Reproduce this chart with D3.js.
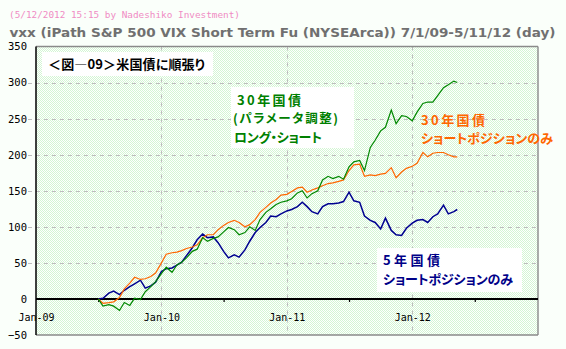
<!DOCTYPE html>
<html>
<head>
<meta charset="utf-8">
<script src="https://cdn.jsdelivr.net/npm/d3@7"></script>
<style>
  html, body { margin: 0; padding: 0; background: #fafffa; }
  svg { display: block; }
  .jp { font-family: "Noto Sans CJK JP", sans-serif; font-weight: bold; font-feature-settings: "palt"; }
</style>
</head>
<body>
<svg id="chart" width="566" height="349"></svg>
<script>
// ---- data (semi-monthly closes, cumulative result) ----
const dates = [
  "2009-07-01","2009-07-15","2009-08-01","2009-08-15","2009-09-01","2009-09-15",
  "2009-10-01","2009-10-15","2009-11-01","2009-11-15","2009-12-01","2009-12-15",
  "2010-01-01","2010-01-15","2010-02-01","2010-02-15","2010-03-01","2010-03-15",
  "2010-04-01","2010-04-15","2010-05-01","2010-05-15","2010-06-01","2010-06-15",
  "2010-07-01","2010-07-15","2010-08-01","2010-08-15","2010-09-01","2010-09-15",
  "2010-10-01","2010-10-15","2010-11-01","2010-11-15","2010-12-01","2010-12-15",
  "2011-01-01","2011-01-15","2011-02-01","2011-02-15","2011-03-01","2011-03-15",
  "2011-04-01","2011-04-15","2011-05-01","2011-05-15","2011-06-01","2011-06-15",
  "2011-07-01","2011-07-15","2011-08-01","2011-08-15","2011-09-01","2011-09-15",
  "2011-10-01","2011-10-15","2011-11-01","2011-11-15","2011-12-01","2011-12-15",
  "2012-01-01","2012-01-15","2012-02-01","2012-02-15","2012-03-01","2012-03-15",
  "2012-04-01","2012-04-15","2012-05-01","2012-05-11"
];

// 30-year bond, tuned parameters, long/short (green)
const bond30LongShort = [
  0, -10, -8, -10, -16, -5, -9, 1, -1, 10, 17, 24,
  35, 44, 37, 47, 51, 57, 66, 69, 85, 80, 84, 86,
  93, 99, 96, 89, 92, 100, 95, 110, 120, 125, 131, 134,
  136, 139, 147, 150, 140, 146, 150, 165, 170, 167, 170, 166,
  183, 190, 192, 178, 210, 220, 233, 238, 262, 243, 254, 253,
  247, 259, 271, 273, 273, 282, 293, 297, 302, 300
];

// 30-year bond, short positions only (orange)
const bond30ShortOnly = [
  0, -6, -5, -4, 2, 14, 22, 30, 27, 28, 31, 36,
  50, 62, 64, 65, 67, 70, 72, 75, 85, 89, 89, 96,
  102, 106, 109, 106, 100, 103, 110, 120, 127, 133, 138, 144,
  145, 149, 154, 155, 148, 151, 154, 157, 160, 161, 163, 165,
  178, 186, 187, 170, 172, 171, 173, 174, 182, 168, 176, 181,
  184, 188, 203, 197, 202, 203, 203, 200, 197, 197
];

// 5-year bond, short positions only (navy)
const bond5ShortOnly = [
  0, 1, 8, 11, 6, 12, 17, 21, 26, 15, 18, 23,
  38, 42, 43, 47, 51, 60, 71, 82, 90, 85, 86, 78,
  66, 57, 61, 58, 68, 80, 92, 99, 106, 115, 114, 118,
  122, 124, 128, 134, 128, 121, 118, 128, 132, 132, 133, 135,
  148, 136, 134, 115, 109, 106, 97, 112, 95, 89, 88, 98,
  105, 109, 110, 106, 114, 118, 130, 118, 121, 124
];

const yTicks = [-50, 0, 50, 100, 150, 200, 250, 300, 350];
const yGrid = [50, 100, 150, 200, 250, 300];
const xTicks = ["2009-01-01", "2010-01-01", "2011-01-01", "2012-01-01"];
const xMidTicks = ["2009-07-01", "2010-07-01", "2011-07-01", "2012-07-01"];
const xDomain = ["2009-01-01", "2013-01-01"];

const subTitle = "(5/12/2012 15:15 by Nadeshiko Investment)";
const mainTitle = "vxx (iPath S&P 500 VIX Short Term Fu (NYSEArca))  7/1/09-5/11/12 (day)";
const figTitle = "＜図―09＞米国債に順張り";
const greenLabel = ["30年国債", "(パラメータ調整)", "ロング・ショート"];
const orangeLabel = ["30年国債", "ショートポジションのみ"];
const navyLabel = ["5年国債", "ショートポジションのみ"];

// ---- layout ----
const svg = d3.select("#chart");
const plotL = 36, plotR = 538, plotT = 46.5, plotB = 335;
const parse = d3.timeParse("%Y-%m-%d");

const x = d3.scaleTime().domain(xDomain.map(parse)).range([plotL, plotR]);
const y = d3.scaleLinear().domain([-50, 350]).range([plotB, plotT]);

// dotted plot background
const defs = svg.append("defs");
const pat = defs.append("pattern")
  .attr("id", "dots").attr("patternUnits", "userSpaceOnUse")
  .attr("width", 2).attr("height", 2);
pat.append("rect").attr("width", 2).attr("height", 2).attr("fill", "#ffffff");
pat.append("rect").attr("x", 0).attr("y", 0).attr("width", 1).attr("height", 1).attr("fill", "#d4f6d4");
pat.append("rect").attr("x", 1).attr("y", 1).attr("width", 1).attr("height", 1).attr("fill", "#d4f6d4");

svg.append("rect")
  .attr("x", plotL).attr("y", plotT)
  .attr("width", plotR - plotL).attr("height", plotB - plotT)
  .attr("fill", "url(#dots)")
  .attr("shape-rendering", "crispEdges");

// titles
svg.append("text")
  .attr("x", 9).attr("y", 17.5)
  .attr("font-family", "DejaVu Sans Mono, monospace")
  .attr("font-size", 9.5)
  .attr("fill", "#f08cc4")
  .attr("textLength", 231).attr("lengthAdjust", "spacingAndGlyphs")
  .text(subTitle);

svg.append("text")
  .attr("x", 9.5).attr("y", 36.5)
  .attr("font-family", "DejaVu Sans, Verdana, sans-serif")
  .attr("font-weight", "bold")
  .attr("font-size", 12.5)
  .attr("fill", "#707070")
  .attr("textLength", 546).attr("lengthAdjust", "spacingAndGlyphs")
  .text(mainTitle);

// horizontal grid
svg.append("g").selectAll("line").data(yGrid).join("line")
  .attr("x1", plotL - 8).attr("x2", plotR)
  .attr("y1", d => Math.round(y(d)) + 0.5).attr("y2", d => Math.round(y(d)) + 0.5)
  .attr("stroke", "#bdbdbd").attr("stroke-dasharray", "4,4");

// vertical grid at year starts
svg.append("g").selectAll("line").data(xTicks.slice(1).map(parse)).join("line")
  .attr("x1", d => Math.round(x(d)) + 0.5).attr("x2", d => Math.round(x(d)) + 0.5)
  .attr("y1", plotT).attr("y2", plotB)
  .attr("stroke", "#bdbdbd").attr("stroke-dasharray", "4,4");

// frame
const frame = svg.append("g").attr("fill", "none").attr("stroke", "#8a8a8a").attr("stroke-width", 1.4);
frame.append("line").attr("x1", plotL).attr("x2", plotR).attr("y1", plotT).attr("y2", plotT);
frame.append("line").attr("x1", plotR).attr("x2", plotR).attr("y1", plotT).attr("y2", plotB);
frame.append("line").attr("x1", plotL).attr("x2", plotR).attr("y1", plotB).attr("y2", plotB);

// text panels with white backing
svg.append("rect").attr("x", 42).attr("y", 52).attr("width", 171).attr("height", 24).attr("fill", "#ffffff");
svg.append("rect").attr("x", 231).attr("y", 87).attr("width", 123).attr("height", 61).attr("fill", "#ffffff");
svg.append("rect").attr("x", 377).attr("y", 248).attr("width", 145).attr("height", 44).attr("fill", "#ffffff");

// y axis labels
const yAxis = svg.append("g")
  .attr("transform", `translate(${plotL},0)`)
  .call(d3.axisLeft(y).tickValues(yTicks).tickSize(0).tickPadding(9));
yAxis.select(".domain").remove();
yAxis.selectAll("text")
  .attr("font-family", "DejaVu Sans Mono, monospace")
  .attr("font-size", 10.5)
  .attr("fill", "#000");

// y axis line
svg.append("line")
  .attr("x1", plotL).attr("x2", plotL).attr("y1", plotT).attr("y2", plotB)
  .attr("stroke", "#000").attr("stroke-width", 1.5);

// zero line with x labels
const y0 = Math.round(y(0));
const xAxis = svg.append("g")
  .attr("transform", `translate(0,${y0})`)
  .call(d3.axisBottom(x).tickValues(xTicks.map(parse))
    .tickFormat(d3.timeFormat("%b-%y")).tickSize(0).tickPadding(15));
xAxis.select(".domain").remove();
xAxis.selectAll("text")
  .attr("font-family", "DejaVu Sans Mono, monospace")
  .attr("font-size", 10)
  .attr("fill", "#000");

const xMinor = svg.append("g")
  .attr("transform", `translate(0,${y0})`)
  .call(d3.axisBottom(x).tickValues(xMidTicks.map(parse)).tickSize(3).tickFormat(""));
xMinor.select(".domain").remove();
xMinor.selectAll("line").attr("stroke", "#000").attr("stroke-width", 1.2);

svg.append("line")
  .attr("x1", plotL).attr("x2", plotR).attr("y1", y0).attr("y2", y0)
  .attr("stroke", "#000").attr("stroke-width", 2);

// series
const line = d3.line()
  .x((d, i) => x(parse(dates[i])))
  .y(d => y(d));

const series = [
  { values: bond5ShortOnly, color: "#000090", width: 1.5 },
  { values: bond30ShortOnly, color: "#ff6600", width: 1.2 },
  { values: bond30LongShort, color: "#008800", width: 1.2 }
];
svg.append("g").selectAll("path").data(series).join("path")
  .attr("d", d => line(d.values))
  .attr("fill", "none")
  .attr("stroke", d => d.color)
  .attr("stroke-width", d => d.width)
  .attr("stroke-linejoin", "miter");

// labels
function label(lines, xs, ys, widths, color, size) {
  lines.forEach((t, i) => {
    svg.append("text")
      .attr("class", "jp")
      .attr("x", xs[i]).attr("y", ys[i])
      .attr("font-size", size[i])
      .attr("fill", color)
      .attr("textLength", widths[i]).attr("lengthAdjust", "spacing")
      .text(t);
  });
}
label([figTitle], [48], [69], [157], "#000000", [13]);
label(greenLabel, [237, 233, 234], [105, 123, 142], [64, 105, 88], "#008000", [13, 12.5, 13]);
label(orangeLabel, [421, 421], [125, 143], [64, 132], "#ff6600", [13, 13]);
label(navyLabel, [383, 383], [265, 284], [57, 130], "#000088", [13, 13]);
</script>
</body>
</html>
